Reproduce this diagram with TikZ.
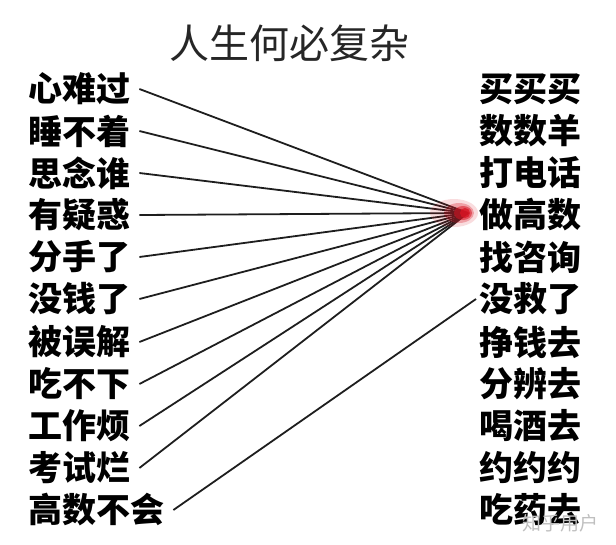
\documentclass[tikz,border=0pt]{standalone}
\usepackage{fontspec}
\usepackage{tikz}
\usetikzlibrary{positioning,calc}
\newfontfamily\cjk{Noto Sans CJK SC}
\definecolor{HubRed}{RGB}{215,20,35}
\definecolor{InkGray}{RGB}{30,30,30}
\tikzset{
  lab/.style={anchor=west,inner ysep=0pt,inner xsep=9pt,font=\cjk\bfseries\fontsize{34}{34}\selectfont},
  rlab/.style={anchor=west,inner ysep=0pt,inner xsep=3pt,font=\cjk\bfseries\fontsize{34}{34}\selectfont},
  edge/.style={draw=InkGray,line width=1.8pt},
}
\tikzset{headline/.style={font=\cjk\fontsize{40}{40}\selectfont,text=black!85},mark text/.style={font=\cjk\fontsize{19}{19}\selectfont,text=black!25}}

\begin{document}
\begin{tikzpicture}[x=1pt,y=-1pt]
\useasboundingbox (0,0) rectangle (616,544);
\coordinate (hub) at (468,213);
\node[headline] (title) at (289,43) {人生何必复杂};
\node[lab] (l1) at (19,89) {心难过};
\node[lab] (l2) at (19,131) {睡不着};
\node[lab] (l3) at (19,173) {思念谁};
\node[lab] (l4) at (19,215) {有疑惑};
\node[lab] (l5) at (19,257) {分手了};
\node[lab] (l6) at (19,299) {没钱了};
\node[lab] (l7) at (19,342) {被误解};
\node[lab] (l8) at (19,384) {吃不下};
\node[lab] (l9) at (19,426) {工作烦};
\node[lab] (l10) at (19,468) {考试烂};
\node[lab] (l11) at (19,510) {高数不会};
\node[rlab] (r1) at (476,89) {买买买};
\node[rlab] (r2) at (476,131) {数数羊};
\node[rlab] (r3) at (476,173) {打电话};
\node[rlab] (r4) at (476,215) {做高数};
\node[rlab] (r5) at (476,257) {找咨询};
\node[rlab] (r6) at (476,299) {没救了};
\node[rlab] (r7) at (476,342) {挣钱去};
\node[rlab] (r8) at (476,384) {分辨去};
\node[rlab] (r9) at (476,426) {喝酒去};
\node[rlab] (r10) at (476,468) {约约约};
\node[rlab] (r11) at (476,510) {吃药去};
\draw[edge] (l1.east) -- (hub);
\draw[edge] (l2.east) -- (hub);
\draw[edge] (l3.east) -- (hub);
\draw[edge] (l4.east) -- (hub);
\draw[edge] (l5.east) -- (hub);
\draw[edge] (l6.east) -- (hub);
\draw[edge] (l7.east) -- (hub);
\draw[edge] (l8.east) -- (hub);
\draw[edge] (l9.east) -- (hub);
\draw[edge] (l10.east) -- (hub);
\draw[edge] (l11.east) -- (r6.west);
% red blob where the lines meet
\fill[HubRed,opacity=0.15] ($(hub)+(-14,0)$) ellipse (24 and 14);
\fill[HubRed,opacity=0.3] ($(hub)+(-9,0)$) ellipse (15 and 10);
\fill[HubRed,opacity=0.55] ($(hub)+(-5,0)$) ellipse (9 and 7);
\fill[HubRed,opacity=0.8] ($(hub)+(-3,0)$) ellipse (5 and 5);
\node[mark text] (mark) at (560,523) {知乎用户};
\end{tikzpicture}
\end{document}
